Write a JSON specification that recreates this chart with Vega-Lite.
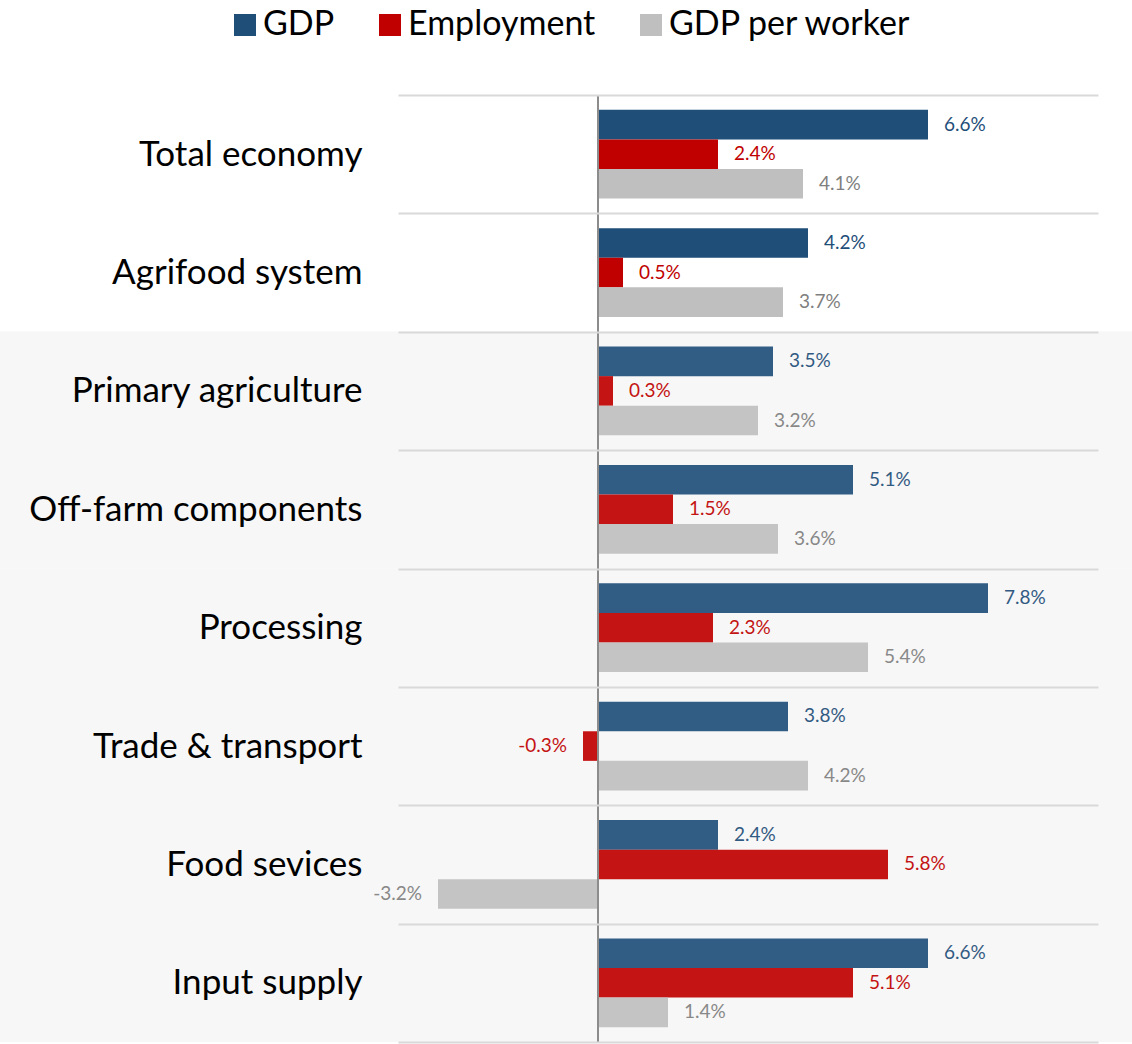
{
  "$schema": "https://vega.github.io/schema/vega-lite/v6.json",
  "width": 700,
  "height": 947,
  "autosize": {"type": "none"},
  "padding": {"left": 398, "top": 95, "right": 34, "bottom": 2},
  "background": "white",
  "config": {
    "font": "Lato",
    "view": {"stroke": null},
    "locale": {"number": {"decimal": ".", "thousands": ",", "grouping": [3], "currency": ["$", ""], "minus": "-"}}
  },
  "data": {
    "values": [
      {"category": "Total economy", "series": "GDP", "value": 0.066, "section": "headline"},
      {"category": "Total economy", "series": "Employment", "value": 0.024, "section": "headline"},
      {"category": "Total economy", "series": "GDP per worker", "value": 0.041, "section": "headline"},
      {"category": "Agrifood system", "series": "GDP", "value": 0.042, "section": "headline"},
      {"category": "Agrifood system", "series": "Employment", "value": 0.005, "section": "headline"},
      {"category": "Agrifood system", "series": "GDP per worker", "value": 0.037, "section": "headline"},
      {"category": "Primary agriculture", "series": "GDP", "value": 0.035, "section": "components"},
      {"category": "Primary agriculture", "series": "Employment", "value": 0.003, "section": "components"},
      {"category": "Primary agriculture", "series": "GDP per worker", "value": 0.032, "section": "components"},
      {"category": "Off-farm components", "series": "GDP", "value": 0.051, "section": "components"},
      {"category": "Off-farm components", "series": "Employment", "value": 0.015, "section": "components"},
      {"category": "Off-farm components", "series": "GDP per worker", "value": 0.036, "section": "components"},
      {"category": "Processing", "series": "GDP", "value": 0.078, "section": "components"},
      {"category": "Processing", "series": "Employment", "value": 0.023, "section": "components"},
      {"category": "Processing", "series": "GDP per worker", "value": 0.054, "section": "components"},
      {"category": "Trade & transport", "series": "GDP", "value": 0.038, "section": "components"},
      {"category": "Trade & transport", "series": "Employment", "value": -0.003, "section": "components"},
      {"category": "Trade & transport", "series": "GDP per worker", "value": 0.042, "section": "components"},
      {"category": "Food sevices", "series": "GDP", "value": 0.024, "section": "components"},
      {"category": "Food sevices", "series": "Employment", "value": 0.058, "section": "components"},
      {"category": "Food sevices", "series": "GDP per worker", "value": -0.032, "section": "components"},
      {"category": "Input supply", "series": "GDP", "value": 0.066, "section": "components"},
      {"category": "Input supply", "series": "Employment", "value": 0.051, "section": "components"},
      {"category": "Input supply", "series": "GDP per worker", "value": 0.014, "section": "components"}
    ]
  },
  "layer": [
    {
      "transform": [{"filter": "datum.section === 'components'"}],
      "mark": {"type": "rect", "color": "#f7f7f7"},
      "encoding": {
        "y": {"field": "category", "type": "nominal", "sort": ["Total economy", "Agrifood system", "Primary agriculture", "Off-farm components", "Processing", "Trade & transport", "Food sevices", "Input supply"], "scale": {"paddingInner": 0, "paddingOuter": 0},
          "axis": {"title": null, "ticks": false, "domain": false, "grid": true, "gridColor": "#d9d9d9", "gridWidth": 2, "tickBand": "extent", "labelFont": "Lato", "labelFontSize": 35, "labelColor": "#000000", "labelPadding": 36, "labelLimit": 400, "zindex": 1}},
        "x": {"datum": -0.12, "type": "quantitative", "scale": {"domain": [-0.04, 0.1], "nice": false, "zero": false}, "axis": null},
        "x2": {"datum": 0.11}
      }
    },
    {
      "mark": {"type": "bar"},
      "encoding": {
        "y": {"field": "category", "type": "nominal", "sort": ["Total economy", "Agrifood system", "Primary agriculture", "Off-farm components", "Processing", "Trade & transport", "Food sevices", "Input supply"], "scale": {"paddingInner": 0, "paddingOuter": 0},
          "axis": {"title": null, "ticks": false, "domain": false, "grid": true, "gridColor": "#d9d9d9", "gridWidth": 2, "tickBand": "extent", "labelFont": "Lato", "labelFontSize": 35, "labelColor": "#000000", "labelPadding": 36, "labelLimit": 400, "zindex": 1}},
        "x": {
          "field": "value",
          "type": "quantitative",
          "scale": {"domain": [-0.04, 0.1], "nice": false, "zero": false},
          "axis": null
        },
        "yOffset": {
          "field": "series",
          "type": "nominal",
          "sort": ["GDP", "Employment", "GDP per worker"],
          "scale": {"paddingInner": 0, "paddingOuter": 0.5}
        },
        "color": {
          "field": "series",
          "type": "nominal",
          "sort": ["GDP", "Employment", "GDP per worker"],
          "scale": {"domain": ["GDP", "Employment", "GDP per worker"], "range": ["#1f4e79", "#c00000", "#bfbfbf"]},
          "legend": {
            "orient": "none",
            "legendX": -170,
            "legendY": -87,
            "direction": "horizontal",
            "title": null,
            "symbolType": "square",
            "symbolSize": 484,
            "symbolStrokeWidth": 0,
            "labelFont": "Lato",
            "labelFontSize": 34,
            "labelColor": "#000000",
            "labelOffset": 1,
            "columnPadding": 38,
            "padding": 0,
            "labelLimit": 400
          }
        },
        "opacity": {
          "field": "section",
          "type": "nominal",
          "scale": {"domain": ["headline", "components"], "range": [1, 0.92]},
          "legend": null
        }
      }
    },
    {
      "transform": [{"filter": "datum.value >= 0"}],
      "mark": {"type": "text", "align": "left", "baseline": "middle", "dx": 16, "fontSize": 19, "font": "Lato"},
      "encoding": {
        "y": {"field": "category", "type": "nominal", "sort": ["Total economy", "Agrifood system", "Primary agriculture", "Off-farm components", "Processing", "Trade & transport", "Food sevices", "Input supply"], "scale": {"paddingInner": 0, "paddingOuter": 0},
          "axis": {"title": null, "ticks": false, "domain": false, "grid": true, "gridColor": "#d9d9d9", "gridWidth": 2, "tickBand": "extent", "labelFont": "Lato", "labelFontSize": 35, "labelColor": "#000000", "labelPadding": 36, "labelLimit": 400, "zindex": 1}},
        "x": {"field": "value", "type": "quantitative", "scale": {"domain": [-0.04, 0.1], "nice": false, "zero": false}, "axis": null},
        "yOffset": {"field": "series", "type": "nominal", "sort": ["GDP", "Employment", "GDP per worker"], "scale": {"paddingInner": 0, "paddingOuter": 0.5}},
        "text": {"field": "value", "type": "quantitative", "format": ".1%"},
        "color": {
          "field": "series",
          "type": "nominal",
          "scale": {"domain": ["GDP", "Employment", "GDP per worker"], "range": ["#1f4e79", "#c00000", "#7f7f7f"]},
          "legend": null
        },
        "opacity": {"field": "section", "type": "nominal", "scale": {"domain": ["headline", "components"], "range": [1, 0.92]}, "legend": null}
      }
    },
    {
      "transform": [{"filter": "datum.value < 0"}],
      "mark": {"type": "text", "align": "right", "baseline": "middle", "dx": -16, "fontSize": 19, "font": "Lato"},
      "encoding": {
        "y": {"field": "category", "type": "nominal", "sort": ["Total economy", "Agrifood system", "Primary agriculture", "Off-farm components", "Processing", "Trade & transport", "Food sevices", "Input supply"], "scale": {"paddingInner": 0, "paddingOuter": 0},
          "axis": {"title": null, "ticks": false, "domain": false, "grid": true, "gridColor": "#d9d9d9", "gridWidth": 2, "tickBand": "extent", "labelFont": "Lato", "labelFontSize": 35, "labelColor": "#000000", "labelPadding": 36, "labelLimit": 400, "zindex": 1}},
        "x": {"field": "value", "type": "quantitative", "scale": {"domain": [-0.04, 0.1], "nice": false, "zero": false}, "axis": null},
        "yOffset": {"field": "series", "type": "nominal", "sort": ["GDP", "Employment", "GDP per worker"], "scale": {"paddingInner": 0, "paddingOuter": 0.5}},
        "text": {"field": "value", "type": "quantitative", "format": ".1%"},
        "color": {
          "field": "series",
          "type": "nominal",
          "scale": {"domain": ["GDP", "Employment", "GDP per worker"], "range": ["#1f4e79", "#c00000", "#7f7f7f"]},
          "legend": null
        },
        "opacity": {"field": "section", "type": "nominal", "scale": {"domain": ["headline", "components"], "range": [1, 0.92]}, "legend": null}
      }
    },
    {
      "mark": {"type": "rule", "color": "#8c8c8c", "strokeWidth": 2},
      "encoding": {
        "x": {"datum": 0, "type": "quantitative", "scale": {"domain": [-0.04, 0.1], "nice": false, "zero": false}, "axis": null}
      }
    }
  ],
  "resolve": {"scale": {"color": "independent"}}
}
